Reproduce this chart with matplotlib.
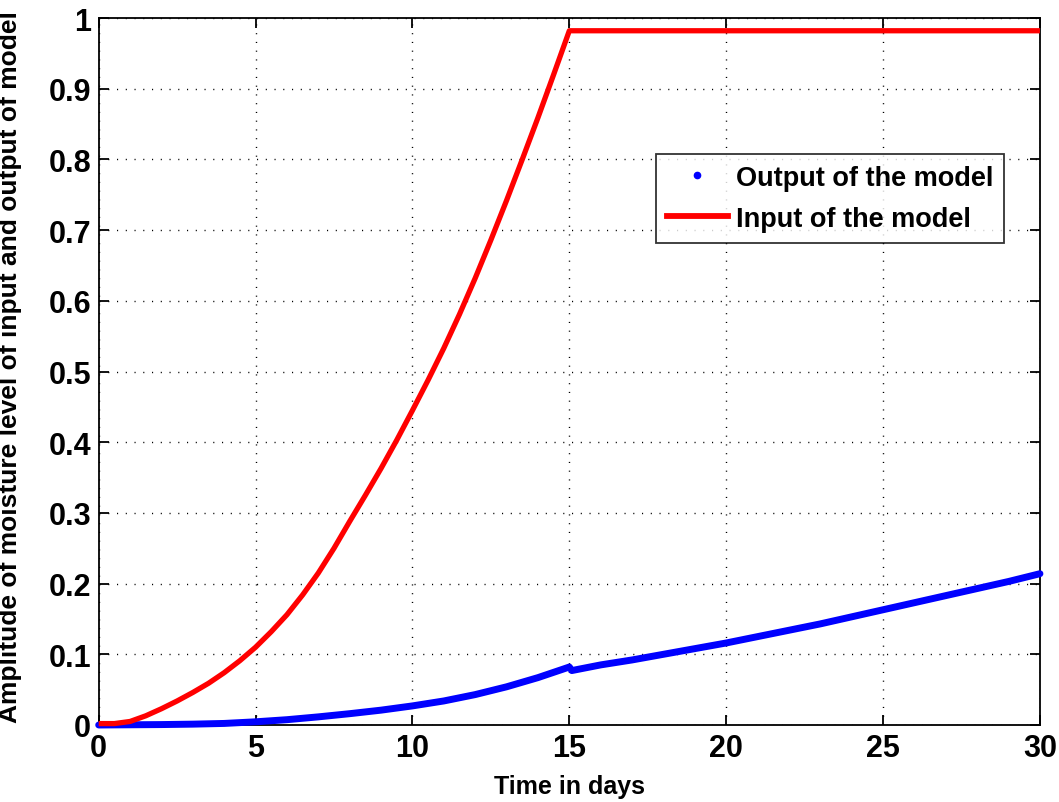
import matplotlib
matplotlib.use("Agg")
import matplotlib.pyplot as plt
from matplotlib.lines import Line2D

plt.rcParams['font.family'] = ['Liberation Sans', 'DejaVu Sans']

# Time axis (days) and model signals
t_in = [0, 0.5, 1, 1.5, 2, 2.5, 3, 3.5, 4, 4.5, 5, 5.5, 6, 6.5, 7, 7.5, 8, 8.5,
        9, 9.5, 10, 10.5, 11, 11.5, 12, 12.5, 13, 13.5, 14, 14.5, 15, 30]
input_level = [0.002, 0.002, 0.005, 0.013, 0.023, 0.034, 0.046, 0.059, 0.074, 0.091,
               0.110, 0.132, 0.156, 0.184, 0.215, 0.250, 0.288, 0.325, 0.363, 0.403,
               0.445, 0.488, 0.533, 0.581, 0.632, 0.686, 0.742, 0.800, 0.859, 0.920,
               0.982, 0.982]

t_out = [0, 1, 2, 3, 4, 5, 6, 7, 8, 9, 10, 11, 12, 13, 14, 15, 15.08,
         16, 17, 18, 19, 20, 21, 22, 23, 24, 25, 26, 27, 28, 29, 30]
output_level = [0.0, 0.0003, 0.0006, 0.0012, 0.0022, 0.0045, 0.0075, 0.0115, 0.016,
                0.021, 0.027, 0.034, 0.043, 0.054, 0.067, 0.082, 0.077,
                0.085, 0.092, 0.100, 0.108, 0.116, 0.125, 0.134, 0.143, 0.153,
                0.163, 0.173, 0.183, 0.193, 0.203, 0.214]

x_ticks = [0, 5, 10, 15, 20, 25, 30]
y_ticks = [0, 0.1, 0.2, 0.3, 0.4, 0.5, 0.6, 0.7, 0.8, 0.9, 1]
y_tick_labels = ['0', '0.1', '0.2', '0.3', '0.4', '0.5', '0.6', '0.7', '0.8', '0.9', '1']

fig = plt.figure(figsize=(10.59, 8.03), dpi=100)
ax = fig.add_axes([0.0932, 0.0959, 0.8888, 0.8804])

ax.plot(t_out, output_level, color='#0000ff', lw=5.0, solid_capstyle='round',
        solid_joinstyle='round', clip_on=False, zorder=3)
ax.plot(t_in, input_level, color='#ff0000', lw=3.8, solid_capstyle='butt',
        solid_joinstyle='round', clip_on=False, zorder=4)

ax.set_xlim(0, 30)
ax.set_ylim(0, 1)
ax.set_xticks(x_ticks)
ax.set_xticklabels([str(v) for v in x_ticks])
ax.set_yticks(y_ticks)
ax.set_yticklabels(y_tick_labels)

ax.grid(True, color='black', linestyle=(0, (0.8, 5.5)), linewidth=1.0)
ax.set_axisbelow(True)

ax.tick_params(direction='in', length=7, width=1.3, top=True, right=True,
               labelsize=22, colors='black')
ax.tick_params(axis='x', pad=6)
ax.tick_params(axis='y', pad=5.5)
for lab in ax.get_xticklabels() + ax.get_yticklabels():
    lab.set_fontweight('bold')
for sp in ax.spines.values():
    sp.set_linewidth(1.3)
    sp.set_color('black')

ax.set_xlabel('Time in days', fontsize=18, fontweight='bold')
ax.xaxis.set_label_coords(0.5, -0.07)
ax.set_ylabel('Amplitude of moisture level of input and output of model',
              fontsize=19.0, fontweight='bold')
ax.yaxis.set_label_coords(-0.0815, 0.508)

handles = [
    Line2D([], [], color='#0000ff', marker='.', markersize=9, linestyle='none'),
    Line2D([], [], color='#ff0000', lw=4.2),
]
leg = ax.legend(handles, ['Output of the model', 'Input of the model'],
                loc='upper left', bbox_to_anchor=(0.592, 0.8076),
                prop={'size': 19.5, 'weight': 'bold'}, frameon=True, fancybox=False,
                handlelength=2.25, handletextpad=0.3, borderpad=0.4,
                labelspacing=0.55, borderaxespad=0.0)
leg.get_frame().set_edgecolor('black')
leg.get_frame().set_linewidth(1.3)

fig.savefig('out.png', dpi=100, facecolor='white')
